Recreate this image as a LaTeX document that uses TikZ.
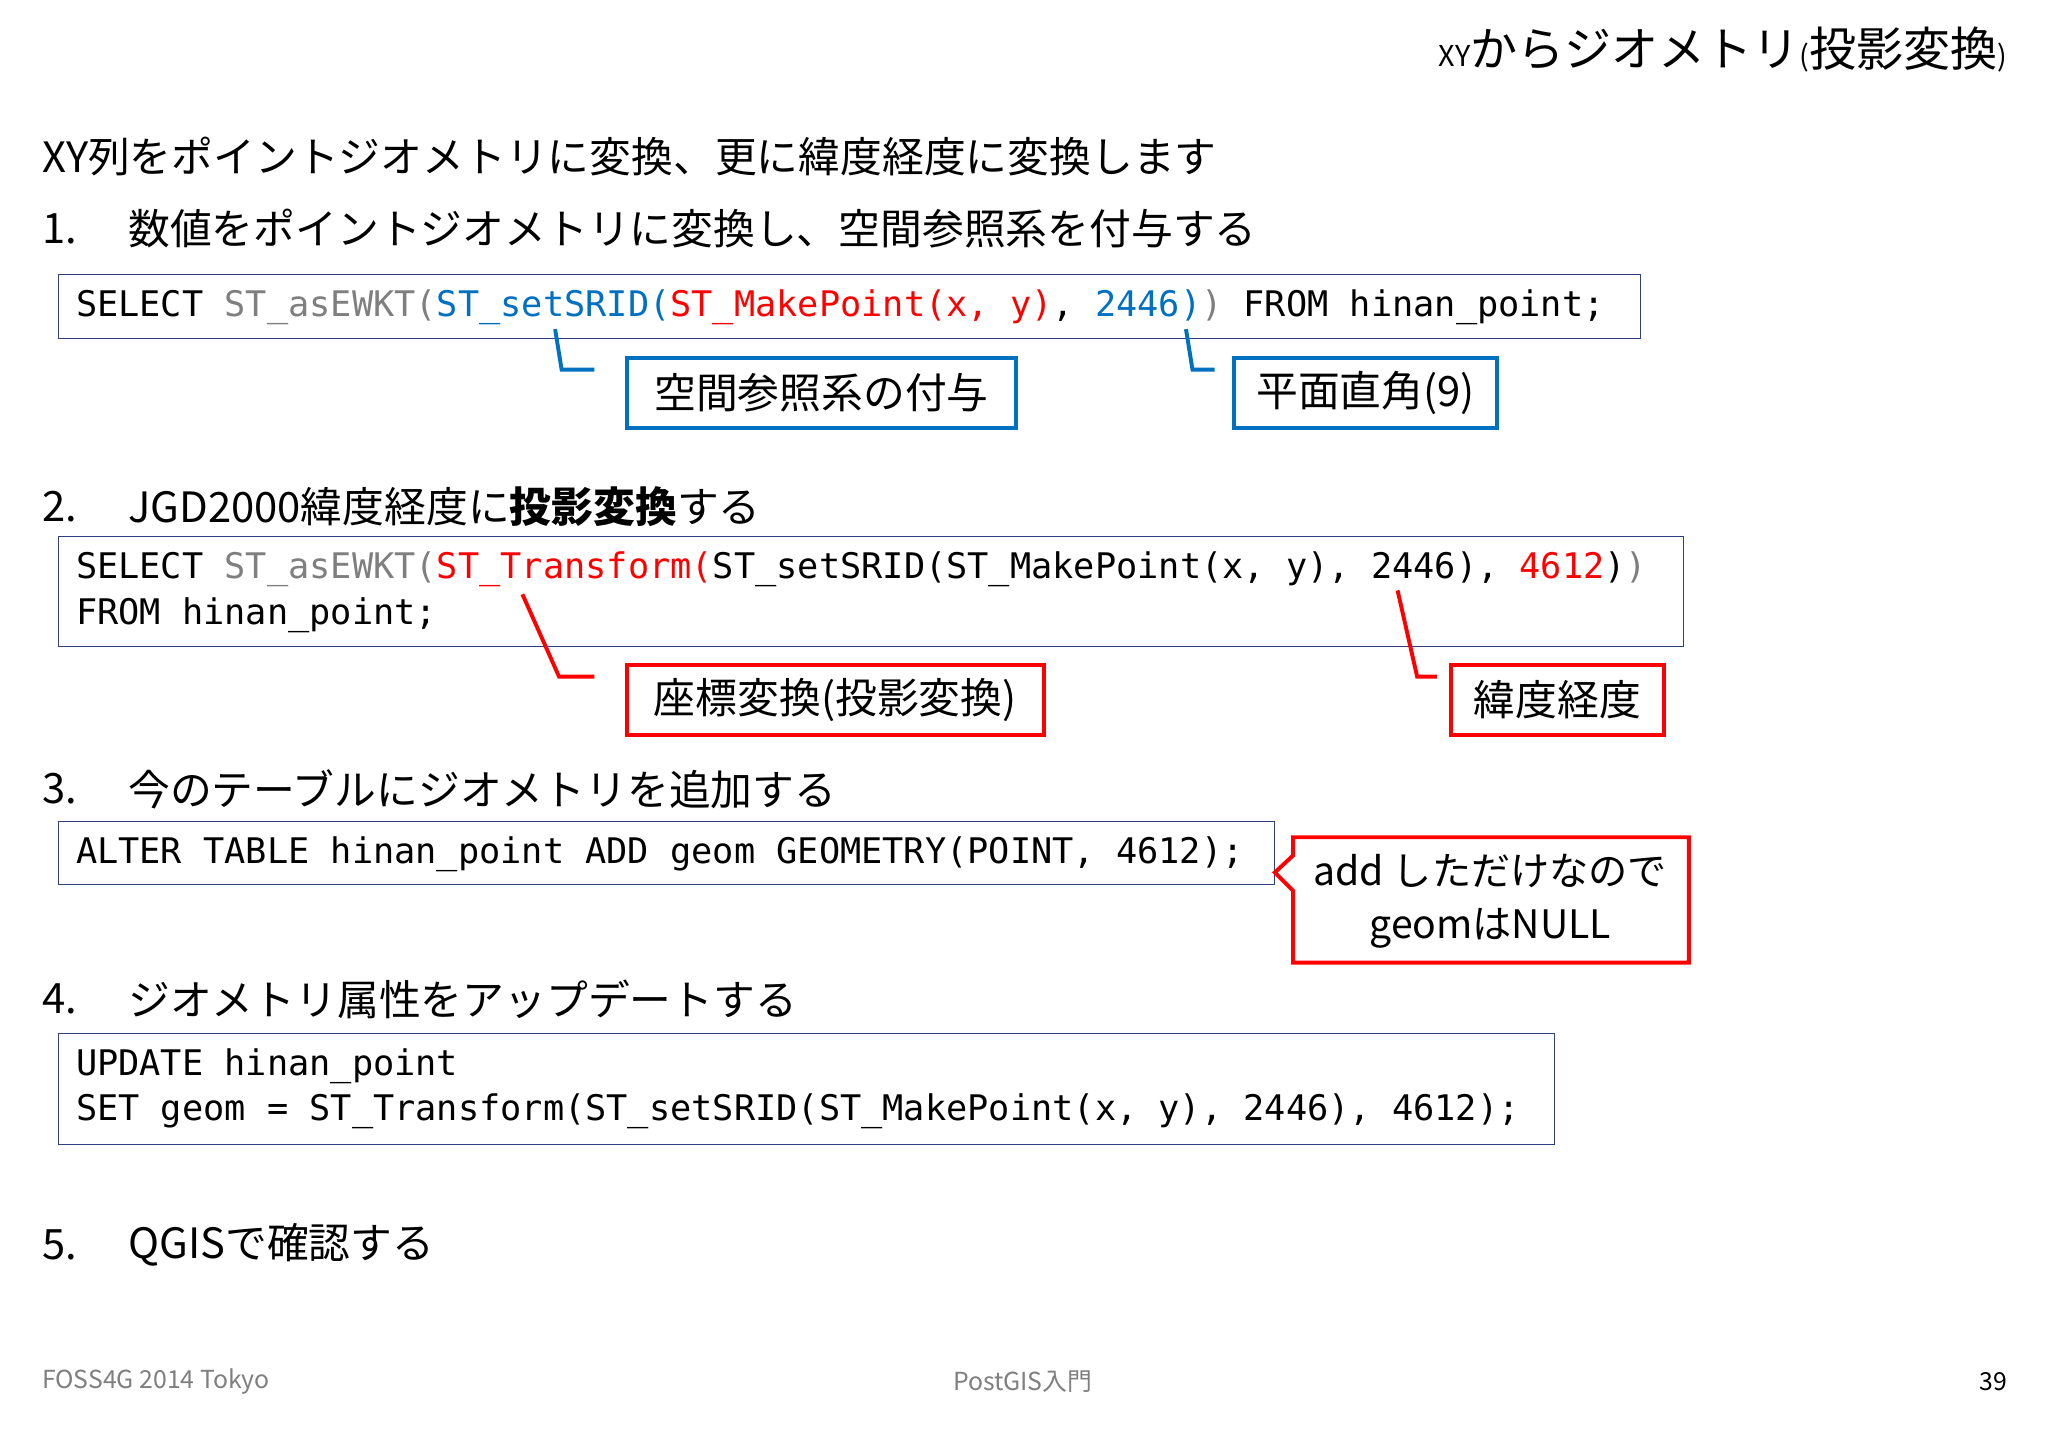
\documentclass[tikz,border=0pt]{standalone}
\usepackage{fontspec}
\setmainfont{Noto Sans CJK JP}
\setmonofont{DejaVu Sans Mono}
\definecolor{cblue}{HTML}{0070C0}
\definecolor{cred}{HTML}{FF0000}
\definecolor{cframe}{HTML}{2F3F7F}
\definecolor{cgray}{HTML}{7F7F7F}
\begin{document}
\begin{tikzpicture}[x=1pt,y=-1pt,
  head/.style={anchor=west,inner sep=0pt,font=\fontsize{32}{38}\selectfont},
  code/.style={anchor=west,inner sep=0pt,font=\fontsize{27}{34}\ttfamily},
  codebox/.style={draw=cframe,line width=1pt},
  bluebox/.style={draw=cblue,line width=3pt,font=\fontsize{32}{36}\selectfont},
  redbox/.style={draw=cred,line width=3pt,font=\fontsize{32}{36}\selectfont},
  bline/.style={cblue,line width=3pt},
  rline/.style={cred,line width=3pt},
  foot/.style={inner sep=0pt,text=cgray,font=\fontsize{19}{22}\selectfont}]
\useasboundingbox[fill=white] (0,0) rectangle (1568,1109);
\node[anchor=east,inner sep=0pt,font=\fontsize{36}{40}\selectfont] (title) at (1537,38) {{\fontsize{22}{26}\selectfont XY}からジオメトリ{\fontsize{22}{26}\selectfont(}投影変換{\fontsize{22}{26}\selectfont)}};
\node[head] (intro) at (32,120) {XY列をポイントジオメトリに変換、更に緯度経度に変換します};
\node[head] (n1) at (32,175) {1.};
\node[head] (t1) at (98,175) {数値をポイントジオメトリに変換し、空間参照系を付与する};
\draw[codebox] (45,210) rectangle (1256,259);
\node[code] (c1) at (58,235) {SELECT {\color{cgray}ST\_asEWKT(}{\color{cblue}ST\_setSRID(}{\color{cred}ST\_MakePoint(x, y)}, {\color{cblue}2446)}{\color{cgray})} FROM hinan\_point;};
\node[bluebox,minimum width=298pt,minimum height=54pt] (b1) at (629,301) {空間参照系の付与};
\node[bluebox,minimum width=201pt,minimum height=54pt] (b2) at (1045.5,301) {平面直角(9)};
\coordinate (p1) at (425,252); \coordinate (p2) at (908,252);
\draw[bline] (p1) -- (430,283) -- (455,283);
\draw[bline] (p2) -- (913,283) -- (930,283);
\node[head] (n2) at (32,388) {2.};
\node[head] (t2) at (98,388) {JGD2000緯度経度に\textbf{投影変換}する};
\draw[codebox] (45,411) rectangle (1289,495);
\node[code] (c2a) at (58,436) {SELECT {\color{cgray}ST\_asEWKT(}{\color{cred}ST\_Transform(}ST\_setSRID(ST\_MakePoint(x, y), 2446), {\color{cred}4612}){\color{cgray})}};
\node[code] (c2b) at (58,471) {FROM hinan\_point;};
\node[redbox,minimum width=319pt,minimum height=54pt] (r1) at (639.5,536) {座標変換(投影変換)};
\node[redbox,minimum width=163pt,minimum height=54pt] (r2) at (1192.5,536) {緯度経度};
\coordinate (q1) at (400,455); \coordinate (q2) at (1070,452);
\draw[rline] (q1) -- (428,518) -- (455,518);
\draw[rline] (q2) -- (1085,518) -- (1100,518);
\node[head] (n3) at (32,604) {3.};
\node[head] (t3) at (98,604) {今のテーブルにジオメトリを追加する};
\draw[codebox] (45,629) rectangle (976,677);
\node[code] (c3) at (58,654) {ALTER TABLE hinan\_point ADD geom GEOMETRY(POINT, 4612);};
\draw[cred,line width=3pt,line join=miter] (990,641) -- (1293,641) -- (1293,737) -- (990,737) -- (990,682) -- (976,668) -- (990,655) -- cycle;
\node[inner sep=0pt,align=center,font=\fontsize{30}{41}\selectfont] (note) at (1141,690) {add しただけなので\\geomはNULL};
\node[head] (n4) at (32,765) {4.};
\node[head] (t4) at (98,765) {ジオメトリ属性をアップデートする};
\draw[codebox] (45,791) rectangle (1190,876);
\node[code] (c4a) at (58,816) {UPDATE hinan\_point};
\node[code] (c4b) at (58,851) {SET geom = ST\_Transform(ST\_setSRID(ST\_MakePoint(x, y), 2446), 4612);};
\node[head] (n5) at (32,953) {5.};
\node[head] (t5) at (98,953) {QGISで確認する};
\node[foot,anchor=west] (f1) at (32,1058) {FOSS4G 2014 Tokyo};
\node[foot] (f2) at (783,1058) {PostGIS入門};
\node[foot,anchor=east,text=black] (f3) at (1537,1058) {39};
\end{tikzpicture}
\end{document}
